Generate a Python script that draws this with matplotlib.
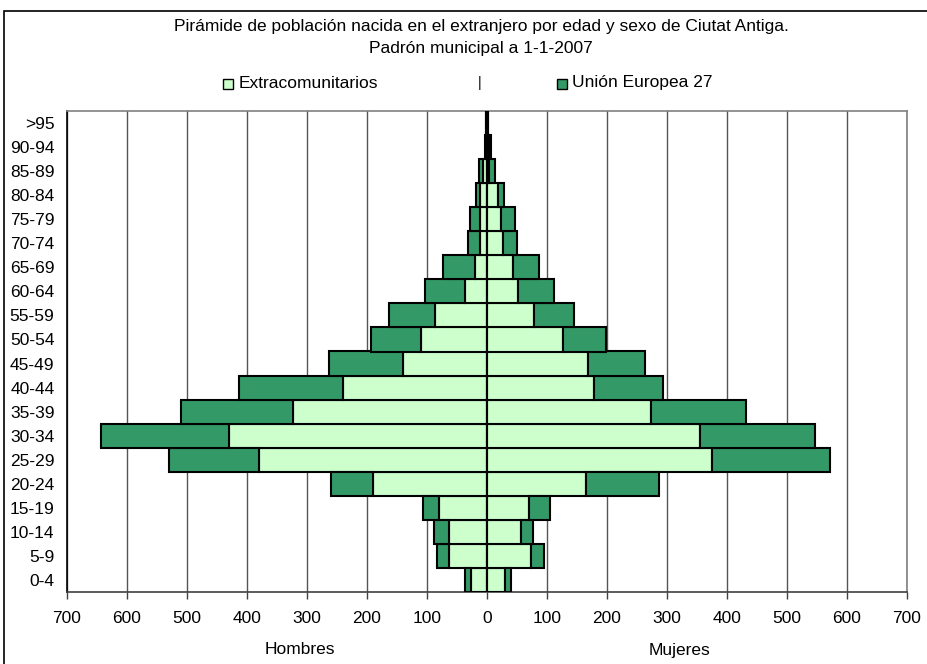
'''Pirámide de población nacida en el extranjero, Ciutat Antiga 2007.'''

import matplotlib
matplotlib.use('Agg')
import matplotlib.pyplot as plt
from matplotlib.patches import Rectangle

# Age groups, bottom to top
edades=['0-4', '5-9', '10-14', '15-19', '20-24', '25-29', '30-34', '35-39',
        '40-44', '45-49', '50-54', '55-59', '60-64', '65-69', '70-74',
        '75-79', '80-84', '85-89', '90-94', '>95']

# Hombres (left side)
hombres_extra=[27, 64, 64, 80, 190, 380, 430, 323, 240, 140, 110, 87, 37, 20, 11, 11, 11, 6, 1, 1]
hombres_ue=[10, 20, 24, 27, 70, 150, 213, 187, 173, 123, 83, 77, 67, 54, 20, 17, 8, 8, 2, 1]

# Mujeres (right side)
mujeres_extra=[30, 73, 57, 70, 165, 375, 355, 274, 178, 168, 126, 79, 52, 43, 26, 23, 19, 4, 3, 1]
mujeres_ue=[10, 22, 19, 35, 121, 197, 191, 157, 116, 96, 72, 66, 60, 44, 24, 23, 9, 10, 3, 1]

xticks=[-700, -600, -500, -400, -300, -200, -100, 0, 100, 200, 300, 400, 500, 600, 700]

LIGHT='#CCFFCC'
DARK='#339966'
FS=12.5

plt.rcParams['font.family']=['Liberation Sans', 'DejaVu Sans']

fig=plt.figure(figsize=(9.28, 6.64), dpi=100)
ax=fig.add_axes([67/928, 1-592/664, 840/928, 481/664])

y=list(range(len(edades)))
neg_extra=[-v for v in hombres_extra]
neg_ue=[-v for v in hombres_ue]

# Left bars (negative values), right bars (positive)
ax.barh(y, neg_extra, height=1.0, color=LIGHT, edgecolor='black', linewidth=1.5, zorder=3)
ax.barh(y, neg_ue, left=neg_extra, height=1.0, color=DARK, edgecolor='black', linewidth=1.5, zorder=3)
ax.barh(y, mujeres_extra, height=1.0, color=LIGHT, edgecolor='black', linewidth=1.5, zorder=3)
ax.barh(y, mujeres_ue, left=mujeres_extra, height=1.0, color=DARK, edgecolor='black', linewidth=1.5, zorder=3)

ax.axvline(0, color='black', linewidth=1.5, zorder=4)

ax.set_xlim(-700, 700)
ax.set_ylim(-0.5, len(edades)-0.5)
ax.set_xticks(xticks)
ax.set_xticklabels([str(abs(t)) for t in xticks], fontsize=FS)
ax.set_yticks(y)
ax.set_yticklabels(edades, fontsize=FS)
ax.tick_params(axis='y', length=0, pad=9)
ax.tick_params(axis='x', length=5, width=1, color='#404040', pad=9)

ax.grid(axis='x', color='#555555', linewidth=1, zorder=0)
ax.set_axisbelow(True)

ax.spines['top'].set_color('#808080')
ax.spines['right'].set_color('#808080')
ax.spines['bottom'].set_color('#404040')
ax.spines['left'].set_color('black')
for s in ax.spines.values():
    s.set_linewidth(1.2)

# Axis labels
fig.text(300/928, 1-650/664, 'Hombres', ha='center', va='center', fontsize=FS)
fig.text(680/928, 1-651/664, 'Mujeres', ha='center', va='center', fontsize=FS)

# Title
fig.text(481/928, 1-27/664, 'Pirámide de población nacida en el extranjero por edad y sexo de Ciutat Antiga.',
         ha='center', va='center', fontsize=FS)
fig.text(481/928, 1-49/664, 'Padrón municipal a 1-1-2007', ha='center', va='center', fontsize=FS)

# Legend drawn by hand
fig.patches.append(Rectangle((223/928, 1-89/664), 10/928, 10/664, transform=fig.transFigure,
                             facecolor=LIGHT, edgecolor='black', linewidth=1))
fig.text(239/928, 1-83/664, 'Extracomunitarios', ha='left', va='center', fontsize=FS)
fig.text(480/928, 1-83/664, '|', ha='center', va='center', fontsize=10)
fig.patches.append(Rectangle((557/928, 1-89/664), 10/928, 10/664, transform=fig.transFigure,
                             facecolor=DARK, edgecolor='black', linewidth=1))
fig.text(572/928, 1-83/664, 'Unión Europea 27', ha='left', va='center', fontsize=FS)

# Outer chart frame (only top and left visible)
fig.patches.append(Rectangle((4/928, -0.05), 1.0, 1-11/664+0.05, transform=fig.transFigure,
                             facecolor='none', edgecolor='black', linewidth=1.2))

fig.savefig('out.png', dpi=100)
